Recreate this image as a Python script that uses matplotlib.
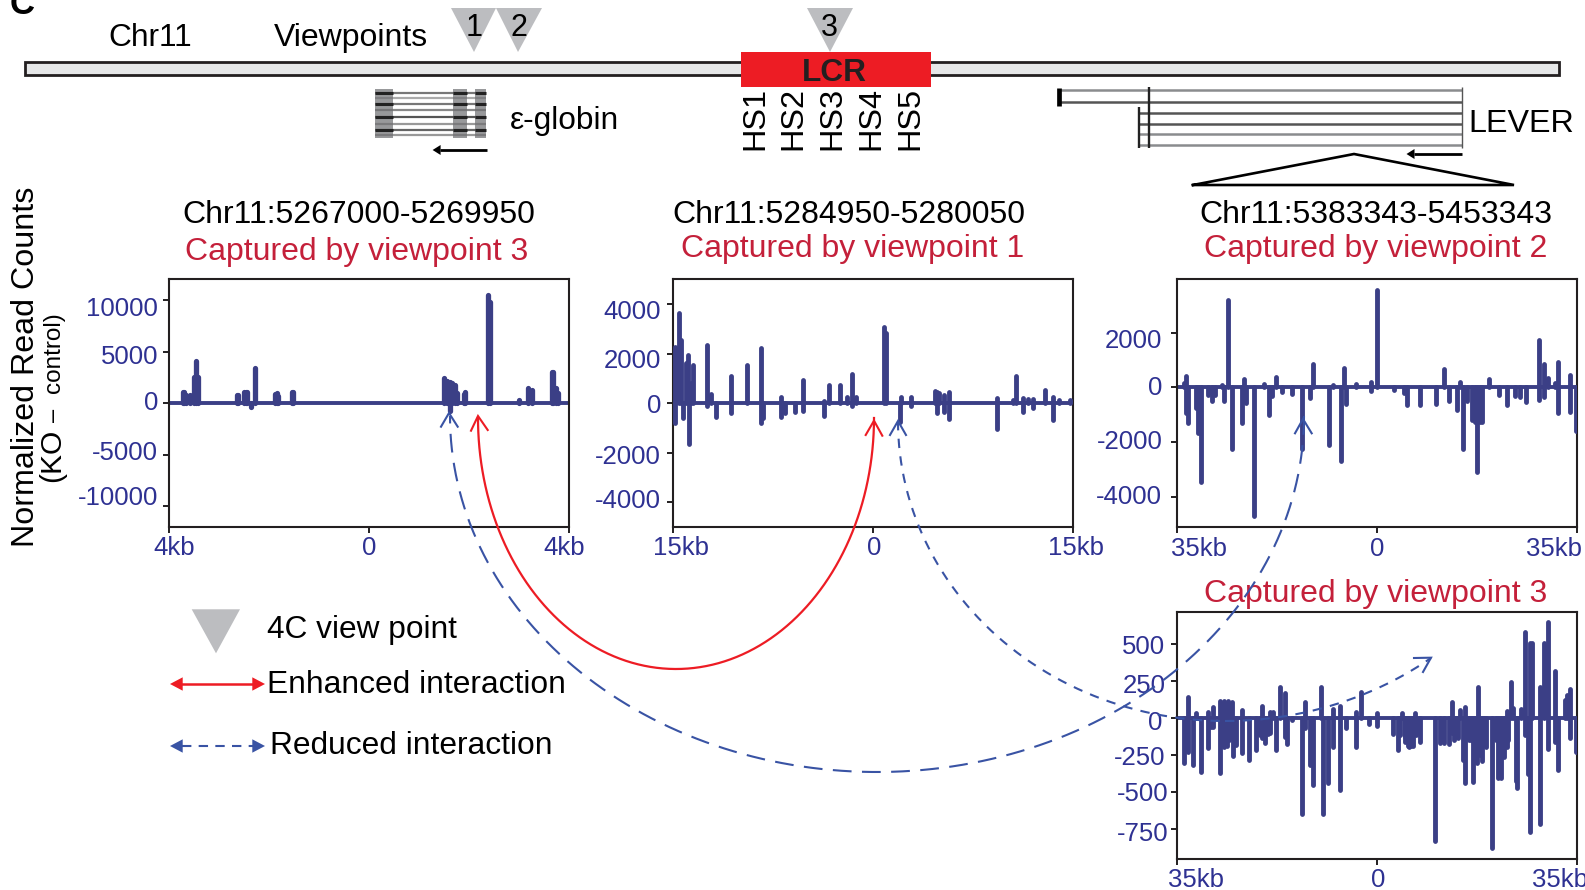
import numpy as np
import matplotlib
matplotlib.use("Agg")
import matplotlib.pyplot as plt
from matplotlib.patches import Polygon, Rectangle
from matplotlib.transforms import ScaledTranslation

plt.rcParams['font.family'] = ['Liberation Sans', 'DejaVu Sans']

W, H, DPI = 1585, 890, 100
NAVY = '#3B3F86'; TICKC = '#2E3192'; REDT = '#C4203A'; RED = '#ED1C24'; BLUE = '#3953A4'; GRAY = '#BCBDC0'; DARK = '#231F20'

# ---- panel data (kb offset, signed normalized read counts) ----
p1_x = [-3.73,-3.70,-3.66,-3.59,-3.51,-3.47,-3.43,-2.65,-2.62,-2.50,-2.47,-2.45,-2.37,-2.29,-1.88,-1.85,-1.82,-1.55,-1.53,1.49,1.55,1.61,1.61,1.66,1.71,1.75,1.92,1.90,2.37,2.41,3.0,3.17,3.25,3.65,3.68,3.74,3.78]
p1_y = [1100,1100,780,780,2550,4100,2500,800,800,1100,1100,1100,-400,3450,900,1000,700,1050,1050,2400,2200,2100,-750,2000,1750,950,1100,900,10500,9800,300,1500,1250,3050,3000,1500,950]

p2_x = [-14.9,-14.9,-14.55,-14.4,-14.25,-14.05,-13.9,-13.8,-13.7,-13.5,-12.5,-12.5,-12.2,-11.8,-10.7,-10.7,-9.45,-8.45,-8.45,-8.25,-6.9,-6.9,-6.6,-5.9,-5.3,-5.3,-3.7,-3.7,-3.35,-2.5,-2.0,-1.6,-1.6,-1.3,0.8,0.95,2.0,2.1,2.8,2.8,4.65,4.8,4.8,4.95,5.3,5.3,5.7,5.7,9.25,9.25,10.5,10.7,11.2,11.2,11.6,12.0,12.0,12.9,13.45,13.45,13.95,14.75]
p2_y = [2260,-780,3660,2560,-580,1620,1930,-1640,800,1550,2370,-100,360,-540,1080,-380,1560,2220,-800,-580,240,-570,-400,-340,940,-300,90,-500,740,740,270,1190,-100,240,3070,2830,-740,240,240,-100,510,470,-380,430,340,-340,440,-630,200,-1040,130,1100,200,-340,175,175,-200,525,240,-670,130,130]

p3_x = [-33.7,-33.3,-33.3,-33.0,-31.7,-31.2,-30.7,-29.6,-28.9,-28.3,-27.1,-26.8,-26.0,-25.4,-23.5,-23.3,-22.8,-21.4,-19.7,-18.8,-18.4,-17.7,-16.6,-14.8,-13.0,-11.6,-11.2,-8.4,-7.7,-6.2,-5.7,-5.3,-3.6,-1.05,-1.05,0.1,3.0,4.7,5.25,7.6,10.3,11.7,12.7,14.0,14.6,15.1,15.75,16.7,17.2,17.6,18.0,18.4,19.6,21.35,22.75,24.2,25.0,26.1,28.35,28.35,29.3,29.3,29.9,31.2,31.7,31.7,33.8,33.8,34.8]
p3_y = [150,430,-950,-1290,-770,-1680,-3450,-280,-490,-280,90,-490,3200,-2260,-1320,290,-560,-4710,120,-1010,-320,390,-160,-240,-2270,-390,850,-2090,85,-2700,700,-610,110,210,-120,3540,-100,-200,-650,-650,-610,670,-500,-830,180,-2240,-490,-1200,-1260,-3090,-1260,-1260,290,-280,-650,-320,-340,-520,1730,-460,850,-340,330,150,920,-930,440,-890,-1590]

p4_x = [-33.7,-33.1,-33.1,-32.2,-31.6,-30.8,-29.6,-29.6,-29.0,-28.6,-28.6,-27.4,-27.4,-26.7,-26.7,-26.2,-26.0,-25.8,-25.4,-25.2,-24.6,-23.5,-23.5,-22.3,-21.1,-20.5,-20.0,-20.0,-19.5,-19.0,-18.7,-18.7,-18.2,-17.6,-17.0,-16.1,-16.1,-15.75,-14.9,-13.0,-12.6,-12.6,-11.7,-11.2,-9.8,-9.45,-8.5,-7.7,-7.7,-6.4,-6.4,-5.4,-3.6,-3.6,-2.7,-1.3,0.1,0.1,2.8,3.7,4.0,4.5,4.9,5.0,5.4,5.7,6.0,6.4,6.65,6.9,7.5,10.15,11.1,11.8,12.6,13.1,13.1,13.6,14.0,14.3,14.6,15.05,15.5,15.5,16.2,16.5,16.8,17.1,17.5,17.8,18.0,18.4,18.8,19.2,20.1,20.8,21.3,21.8,22.3,22.75,22.75,23.0,23.45,23.9,24.3,24.6,25.2,26.0,26.0,26.4,26.8,26.8,27.1,28.6,28.6,29.2,29.9,29.9,31.2,31.2,31.7,33.0,33.25,33.9,33.9,34.8]
p4_y = [-308,142,-230,-320,30,-365,40,-207,-60,70,-65,115,-376,115,-196,-190,115,-150,108,-259,-185,52,-236,-286,-218,-120,79,-140,-173,-110,40,-106,40,-218,210,164,-128,-178,-16,-651,108,-72,-320,-455,205,-651,-439,58,-200,79,-489,-68,36,-200,176,-43,30,-56,-113,-218,-120,29,-130,-162,-190,-196,-190,-189,30,-120,-164,-831,-173,-173,-180,108,-106,-150,-130,-140,52,-286,70,-444,-151,-150,-437,-200,-308,210,-250,-290,-180,-200,-883,-150,-410,-410,-263,47,-200,-150,243,63,-426,-477,56,577,-117,-380,507,-770,507,210,-718,502,644,-214,315,-162,-353,119,153,194,-140,-234]

# ---- axis definitions ----
p1_ylim = (-12000, 12000); p1_yt = [10000, 5000, 0, -5000, -10000]
p2_ylim = (-5000, 5000);   p2_yt = [4000, 2000, 0, -2000, -4000]
p3_ylim = (-5100, 3940);   p3_yt = [2000, 0, -2000, -4000]
p4_ylim = (-953, 716);     p4_yt = [500, 250, 0, -250, -500, -750]

fig = plt.figure(figsize=(W/DPI, H/DPI), dpi=DPI, facecolor='white')

def panel(box, span, xlab, ylim, yt, xs, ys, ylab_off, xlab_off, lw=3.5):
    x0, y0, x1, y1 = box
    ax = fig.add_axes([x0/W, 1-y1/H, (x1-x0)/W, (y1-y0)/H])
    ax.set_xlim(-span, span); ax.set_ylim(*ylim)
    ax.axhline(0, color=NAVY, lw=2.8, zorder=2)
    ax.vlines(xs, 0, ys, color=NAVY, lw=lw, capstyle='round', zorder=3)
    for s in ax.spines.values():
        s.set_linewidth(1.5); s.set_color(DARK)
    ax.set_xticks([-span, 0, span]); ax.set_xticklabels([xlab, '0', xlab])
    ax.set_yticks(yt); ax.set_yticklabels([str(v) for v in yt])
    ax.tick_params(length=4.4, width=1.4, color=DARK, labelcolor=TICKC, labelsize=18.5, pad=4.5)
    for lab, (dx, dy) in zip(ax.get_yticklabels(), ylab_off):
        lab.set_transform(lab.get_transform() + ScaledTranslation(dx/DPI, -dy/DPI, fig.dpi_scale_trans))
    for lab, (dx, dy) in zip(ax.get_xticklabels(), xlab_off):
        lab.set_transform(lab.get_transform() + ScaledTranslation(dx/DPI, -dy/DPI, fig.dpi_scale_trans))
    return ax

panel((169.3, 279.4, 569, 527), 4, '4kb', p1_ylim, p1_yt, p1_x, p1_y,
      [(1,6),(1,3),(1,-3),(1,-4),(1,-11)], [(5,-3),(0,-3),(-5,-3)], lw=3.8)
panel((673.3, 279.4, 1073.3, 527), 15, '15kb', p2_ylim, p2_yt, p2_x, p2_y,
      [(0,5.7),(0,5),(0,0),(0,1.7),(0,-4)], [(8,-3),(1,-3),(3,-3)])
panel((1176.7, 279.4, 1576.7, 527), 35, '35kb', p3_ylim, p3_yt, p3_x, p3_y,
      [(-2,5.7),(-2,-1.7),(-2,-2.7),(-2,-2)], [(22,-2),(0,-2),(-23,-2)])
panel((1176.7, 611.7, 1576.7, 858.7), 35, '35kb', p4_ylim, p4_yt, p4_x, p4_y,
      [(1,0.7),(1,3.3),(-2,3.3),(1,1),(4,0.3),(4,2.7)], [(19,-3),(1,-3),(-17,-3)])

# ---- overlay in figure pixels ----
ov = fig.add_axes([0, 0, 1, 1], facecolor='none', zorder=10)
ov.set_xlim(0, W); ov.set_ylim(H, 0); ov.axis('off')

def T(x, y, s, size=23, color='black', **kw):
    kw.setdefault('ha', 'center'); kw.setdefault('va', 'center')
    return ov.text(x, y, s, fontsize=size, color=color, **kw)

def tri(pts, fc=GRAY):
    ov.add_patch(Polygon(pts, closed=True, fc=fc, ec='none', zorder=2))

def arrow_left(x0, x1, y, color='black', lw=2.0, hl=8, hh=5):
    ov.plot([x0+hl-1, x1], [y, y], color=color, lw=lw, solid_capstyle='butt')
    tri([(x0, y), (x0+hl, y-hh), (x0+hl, y+hh)], fc=color)

# chromosome bar
ov.add_patch(Rectangle((25, 61.5), 1534, 13.5, fc='#E6E7E8', ec=DARK, lw=2, zorder=1))
ov.add_patch(Rectangle((741, 52), 190, 35, fc=RED, ec='none', zorder=2))
T(834, 73, 'LCR', 22.8, DARK, fontweight='bold', zorder=3)
tri([(451, 8), (496, 8), (474, 52)])
tri([(496, 8), (542, 8), (518, 52)])
tri([(807, 8), (853, 8), (830, 52)])
T(474, 28, '1', 22, zorder=3); T(519, 28, '2', 22, zorder=3); T(829, 28, '3', 22, zorder=3)
T(108, 38, 'Chr11', 22.8, ha='left'); T(274, 38, 'Viewpoints', 23, ha='left')
T(10, 14, 'C', 25, fontweight='bold', ha='left', va='baseline')

# HS labels
for x, s in zip([755, 793, 832, 871, 910], ['HS1', 'HS2', 'HS3', 'HS4', 'HS5']):
    T(x, 150, s, 23.4, rotation=90, va='bottom')

# epsilon-globin gene model
for y, c in zip([92.5, 97.5, 103.5, 110, 116.5, 123.5, 129.5, 135],
                ['#777777', '#AAAAAA', '#777777', '#888888', '#555555', '#999999', '#666666', '#999999']):
    ov.plot([375, 486], [y, y], color=c, lw=1.6, solid_capstyle='butt')
for a, b in [(375, 393), (453, 467), (475, 486)]:
    ov.add_patch(Rectangle((a, 89), b-a, 48.7, fc='#6D6E71', ec='none', alpha=0.7, zorder=2))
    for y in [92.5, 103.5, 116.5, 129.5]:
        ov.plot([a, b], [y, y], color='#222222', lw=2.2, solid_capstyle='butt', zorder=3)
arrow_left(432.6, 487, 150)
T(510, 120.5, 'ε-globin', 22.8, ha='left')

# LEVER gene model
for y, x0 in zip([90, 101.7, 112.7, 124, 134, 145], [1059, 1059, 1139, 1139, 1139, 1139]):
    ov.plot([x0, 1462], [y, y], color='#8A8C8E' if y in (90, 134, 145) else '#555555', lw=1.8, solid_capstyle='butt')
ov.plot([1059, 1059], [87.5, 106], color='black', lw=3.4, solid_capstyle='butt')
ov.plot([1148.5, 1148.5], [87, 148], color='#222222', lw=1.7, solid_capstyle='butt')
ov.plot([1139, 1139], [107, 148], color='#222222', lw=1.7, solid_capstyle='butt')
ov.plot([1462, 1462], [87, 148], color='#555555', lw=1.0, solid_capstyle='butt')
arrow_left(1406.5, 1462, 154)
T(1468, 124.5, 'LEVER', 23.2, ha='left')
ov.plot([1193, 1354, 1514, 1193], [185, 154, 185, 185], color='black', lw=1.9, solid_joinstyle='miter')

# panel titles
for x, y, s, c in [(359, 215, 'Chr11:5267000-5269950', 'black'), (357, 252, 'Captured by viewpoint 3', REDT),
                   (848.5, 215, 'Chr11:5284950-5280050', 'black'), (853, 249, 'Captured by viewpoint 1', REDT),
                   (1376, 215, 'Chr11:5383343-5453343', 'black'), (1376, 249, 'Captured by viewpoint 2', REDT),
                   (1376, 594, 'Captured by viewpoint 3', REDT)]:
    T(x, y, s, 23, c)

# y axis caption
T(26, 367, 'Normalized Read Counts', 23.2, rotation=90)
T(52, 455, '(KO', 21.6, rotation=90)
T(54, 415, '–', 17, rotation=90)
T(54, 353, 'control)', 17.5, rotation=90)

# interaction arcs
def arc(cx, cy, rx, ry, t0, t1, color, ls, lw=1.5):
    t = np.linspace(t0, t1, 400)
    ov.plot(cx + rx*np.cos(t), cy + ry*np.sin(t), color=color, lw=lw, linestyle=ls, zorder=5)

def vee(tip, a, b, color):
    ov.plot([a[0], tip[0], b[0]], [a[1], tip[1], b[1]], color=color, lw=1.5, zorder=5, solid_joinstyle='miter')

arc(676, 418, 198, 251, 0, np.pi, RED, '-', 1.6)
arc(877, 416, 427, 356, 0, np.pi, BLUE, (0, (9, 5)))
t_end = np.arccos(206/336)
arc(1225, 421, 327, 300, np.pi, np.pi/2, BLUE, (0, (4.5, 4)))
arc(1225, 421, 336, 300, np.pi/2, t_end, BLUE, (0, (4.5, 4)))
vee((478, 416), (471, 430.7), (487.7, 430), RED)
vee((874, 420.7), (865.7, 435), (882.3, 435.7), RED)
vee((449, 413), (441, 426.7), (457.7, 426.7), BLUE)
vee((898, 421), (890, 435), (906, 435), BLUE)
vee((1303, 419), (1295, 433.3), (1311.7, 433.3), BLUE)
vee((1431, 657.7), (1414, 658), (1423, 672), BLUE)

# legend
tri([(191.7, 609.3), (240, 609.3), (216, 653.3)])
T(266.7, 630, '4C view point', 22.8, ha='left')
T(267, 685, 'Enhanced interaction', 22.9, ha='left')
T(270, 746, 'Reduced interaction', 22.9, ha='left')
ov.plot([180, 255], [684, 684], color=RED, lw=1.8, solid_capstyle='butt')
tri([(170, 684), (182.7, 677.3), (182.7, 690.7)], fc=RED)
tri([(265, 684), (252.3, 677.3), (252.3, 690.7)], fc=RED)
ov.plot([182, 253], [746, 746], color=BLUE, lw=1.5, linestyle=(0, (4.5, 3.5)))
tri([(170, 746), (182.7, 739.3), (182.7, 752.7)], fc=BLUE)
tri([(265, 746), (252.3, 739.3), (252.3, 752.7)], fc=BLUE)

fig.savefig('out.png', dpi=DPI)
